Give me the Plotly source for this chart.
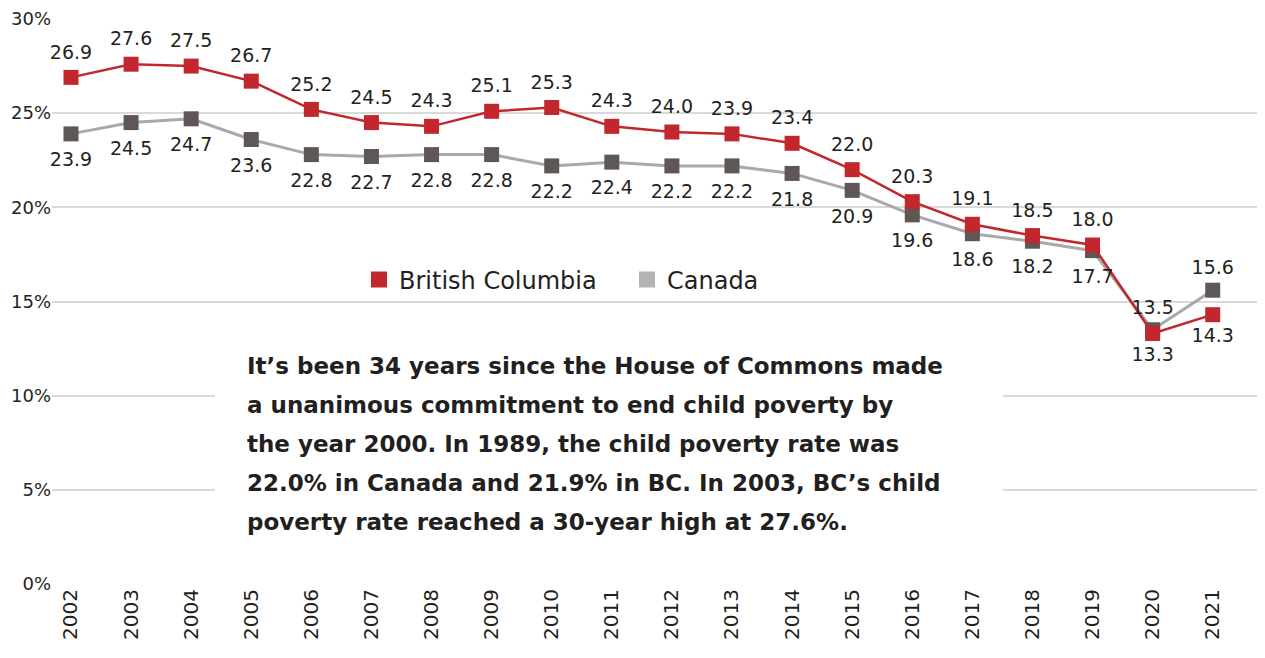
import plotly.graph_objects as go

years = [str(y) for y in range(2002, 2022)]
bc = [26.9, 27.6, 27.5, 26.7, 25.2, 24.5, 24.3, 25.1, 25.3, 24.3, 24.0, 23.9, 23.4, 22.0, 20.3, 19.1, 18.5, 18.0, 13.3, 14.3]
canada = [23.9, 24.5, 24.7, 23.6, 22.8, 22.7, 22.8, 22.8, 22.2, 22.4, 22.2, 22.2, 21.8, 20.9, 19.6, 18.6, 18.2, 17.7, 13.5, 15.6]
y_ticks = [0, 5, 10, 15, 20, 25, 30]
y_tick_text = ["0%", "5%", "10%", "15%", "20%", "25%", "30%"]
note_lines = [
    "It’s been 34 years since the House of Commons made",
    "a unanimous commitment to end child poverty by",
    "the year 2000. In 1989, the child poverty rate was",
    "22.0% in Canada and 21.9% in BC. In 2003, BC’s child",
    "poverty rate reached a 30-year high at 27.6%.",
]

RED = "#C1272D"
GREY_LINE = "#A9A9AB"
GREY_MARK = "#5E5756"
TXT = "#231F20"
LBL_FONT = "DejaVu Sans"

# page body has an 8px margin, so the figure is offset by 8px
OFF = 8
W, H = 1265 - OFF, 658 - OFF
L, R, T, B = 44, 0, 11, 74


def px_x(p):
    return (p - OFF - L) / (W - L - R)


def px_y(p):
    return (H - B - (p - OFF)) / (H - T - B)


n = len(years)
bc_pos = ["top center"] * (n - 2) + ["bottom center"] * 2
ca_pos = ["bottom center"] * (n - 2) + ["top center"] * 2
# invisible spacer markers push the labels away from the visible markers
bc_spacer = [21] * (n - 2) + [20] * 2
ca_spacer = [27] * (n - 2) + [16] * 2

fig = go.Figure()
fig.add_trace(go.Scatter(
    x=years, y=canada, mode="lines+markers", name="Canada",
    line=dict(color=GREY_LINE, width=3),
    marker=dict(symbol="square", size=15, color=GREY_MARK),
    showlegend=False, cliponaxis=False,
))
fig.add_trace(go.Scatter(
    x=years, y=bc, mode="lines+markers", name="British Columbia",
    line=dict(color=RED, width=2.5),
    marker=dict(symbol="square", size=15, color=RED),
    showlegend=False, cliponaxis=False,
))
fig.add_trace(go.Scatter(
    x=years, y=canada, mode="markers+text", name="Canada labels",
    marker=dict(size=ca_spacer, opacity=0), hoverinfo="skip",
    text=[f"{v:.1f}" for v in canada], textposition=ca_pos,
    textfont=dict(family=LBL_FONT, size=19, color=TXT),
    showlegend=False, cliponaxis=False,
))
fig.add_trace(go.Scatter(
    x=years, y=bc, mode="markers+text", name="BC labels",
    marker=dict(size=bc_spacer, opacity=0), hoverinfo="skip",
    text=[f"{v:.1f}" for v in bc], textposition=bc_pos,
    textfont=dict(family=LBL_FONT, size=19, color=TXT),
    showlegend=False, cliponaxis=False,
))
# legend entries
fig.add_trace(go.Scatter(x=[None], y=[None], mode="markers", name="British Columbia",
                         marker=dict(symbol="square", size=24, color=RED)))
fig.add_trace(go.Scatter(x=[None], y=[None], mode="markers", name="Canada",
                         marker=dict(symbol="square", size=24, color="#B3B3B5")))

# white panel behind the note (covers the gridlines)
fig.add_annotation(text="", xref="paper", yref="paper",
                   x=px_x(215), y=px_y(335), xanchor="left", yanchor="top",
                   width=788, height=227, bgcolor="white", borderwidth=0, borderpad=0,
                   showarrow=False)

line_y = [366, 405, 444, 483, 522]
for txt, yy in zip(note_lines, line_y):
    fig.add_annotation(text=txt, xref="paper", yref="paper", x=px_x(245), y=px_y(yy),
                       xanchor="left", yanchor="middle", showarrow=False,
                       font=dict(family="DejaVu Sans", size=23, color=TXT, weight="bold"))

fig.update_layout(
    width=W, height=H,
    margin=dict(l=L, r=R, t=T, b=B, autoexpand=False),
    paper_bgcolor="white", plot_bgcolor="white",
    legend=dict(orientation="h", x=px_x(359), y=px_y(280), xanchor="left", yanchor="middle",
                font=dict(family=LBL_FONT, size=24, color=TXT), bgcolor="rgba(0,0,0,0)",
                itemwidth=30, entrywidth=223, entrywidthmode="pixels"),
    xaxis=dict(type="category", categoryorder="array", categoryarray=years,
               range=[-0.316, 19.87], showgrid=False, zeroline=False, showline=False,
               automargin=False,
               tickangle=-90, tickfont=dict(family=LBL_FONT, size=20, color=TXT), ticks=""),
    yaxis=dict(range=[0, 30], tickvals=y_ticks, ticktext=y_tick_text, showgrid=True,
               automargin=False,
               gridcolor="#D9D9D9", gridwidth=1.5, zeroline=False, showline=False,
               tickfont=dict(family=LBL_FONT, size=18, color=TXT), ticks=""),
)

fig.write_html("out.html")
